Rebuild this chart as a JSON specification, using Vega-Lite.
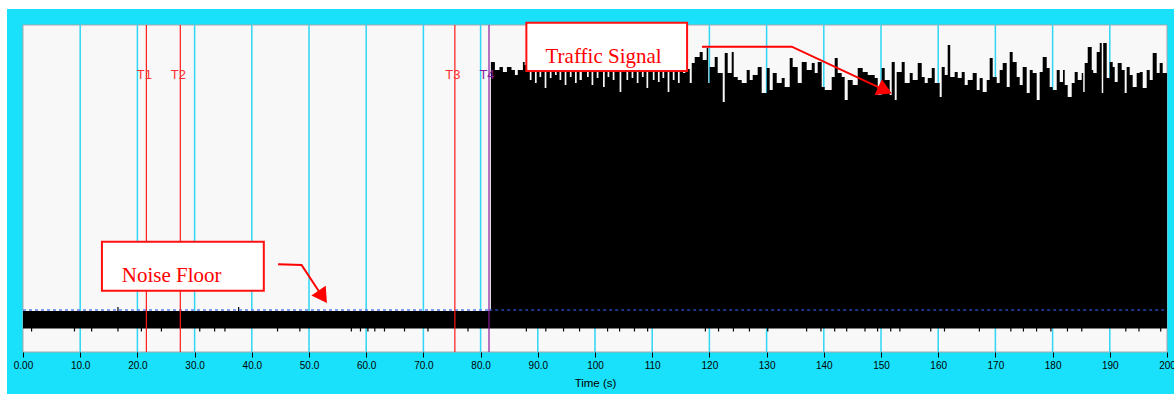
{
  "$schema": "https://vega.github.io/schema/vega-lite/v6.json",
  "width": 1144,
  "height": 327,
  "autosize": {"type": "none"},
  "padding": {"left": 23, "top": 25, "right": 7, "bottom": 42},
  "background": "#ffffff",
  "config": {
    "view": {"stroke": null},
    "axis": {
      "labelFont": "Liberation Sans", "labelFontSize": 10, "labelColor": "#000000",
      "tickColor": "#000000", "tickSize": 5, "tickWidth": 1, "domain": false, "grid": false,
      "labelPadding": 3, "labelFlush": false, "labelOverlap": false,
      "titleFont": "Liberation Sans", "titleFontSize": 11.5, "titleFontWeight": "normal",
      "titleColor": "#000000", "titlePadding": 7
    }
  },
  "resolve": {"scale": {"color": "independent"}},
  "datasets": {
    "one": [{}],
    "sig": [
      {"t": 0, "lo": 23.5, "hi": 41},
      {"t": 81.8, "lo": 23.5, "hi": 290}, {"t": 82.5, "lo": 23.5, "hi": 282}, {"t": 83.3, "lo": 23.5, "hi": 285},
      {"t": 83.9, "lo": 23.5, "hi": 280}, {"t": 84.6, "lo": 23.5, "hi": 285}, {"t": 85.4, "lo": 23.5, "hi": 282},
      {"t": 86.0, "lo": 23.5, "hi": 277}, {"t": 86.5, "lo": 23.5, "hi": 282}, {"t": 87.4, "lo": 23.5, "hi": 290},
      {"t": 87.7, "lo": 23.5, "hi": 287},
      {"t": 88.6, "lo": 23.5, "hi": 272}, {"t": 88.9, "lo": 23.5, "hi": 286},
      {"t": 89.5, "lo": 23.5, "hi": 269}, {"t": 89.8, "lo": 23.5, "hi": 284},
      {"t": 90.3, "lo": 23.5, "hi": 275}, {"t": 90.6, "lo": 23.5, "hi": 288},
      {"t": 91.2, "lo": 23.5, "hi": 264}, {"t": 91.5, "lo": 23.5, "hi": 283},
      {"t": 92.1, "lo": 23.5, "hi": 274}, {"t": 92.4, "lo": 23.5, "hi": 287},
      {"t": 93.0, "lo": 23.5, "hi": 277}, {"t": 93.3, "lo": 23.5, "hi": 290},
      {"t": 93.8, "lo": 23.5, "hi": 272}, {"t": 94.1, "lo": 23.5, "hi": 285},
      {"t": 94.7, "lo": 23.5, "hi": 267}, {"t": 95.0, "lo": 23.5, "hi": 283},
      {"t": 95.6, "lo": 23.5, "hi": 275}, {"t": 95.9, "lo": 23.5, "hi": 288},
      {"t": 96.5, "lo": 23.5, "hi": 269}, {"t": 96.8, "lo": 23.5, "hi": 284},
      {"t": 97.3, "lo": 23.5, "hi": 272}, {"t": 97.7, "lo": 23.5, "hi": 286}, {"t": 98.1, "lo": 23.5, "hi": 289},
      {"t": 98.6, "lo": 23.5, "hi": 275}, {"t": 98.9, "lo": 23.5, "hi": 283},
      {"t": 99.4, "lo": 23.5, "hi": 267}, {"t": 99.7, "lo": 23.5, "hi": 287},
      {"t": 100.3, "lo": 23.5, "hi": 274}, {"t": 100.6, "lo": 23.5, "hi": 290},
      {"t": 101.4, "lo": 23.5, "hi": 265}, {"t": 101.7, "lo": 23.5, "hi": 284},
      {"t": 102.2, "lo": 23.5, "hi": 275}, {"t": 102.5, "lo": 23.5, "hi": 288},
      {"t": 103.1, "lo": 23.5, "hi": 272}, {"t": 103.4, "lo": 23.5, "hi": 283}, {"t": 103.8, "lo": 23.5, "hi": 289},
      {"t": 104.3, "lo": 23.5, "hi": 260}, {"t": 104.6, "lo": 23.5, "hi": 286}, {"t": 105.0, "lo": 23.5, "hi": 290},
      {"t": 105.5, "lo": 23.5, "hi": 272}, {"t": 105.8, "lo": 23.5, "hi": 284},
      {"t": 106.4, "lo": 23.5, "hi": 274}, {"t": 106.7, "lo": 23.5, "hi": 288},
      {"t": 107.3, "lo": 23.5, "hi": 269}, {"t": 107.6, "lo": 23.5, "hi": 285},
      {"t": 108.2, "lo": 23.5, "hi": 275}, {"t": 108.5, "lo": 23.5, "hi": 289},
      {"t": 109.0, "lo": 23.5, "hi": 264}, {"t": 109.3, "lo": 23.5, "hi": 283}, {"t": 109.7, "lo": 23.5, "hi": 287},
      {"t": 110.1, "lo": 23.5, "hi": 272}, {"t": 110.4, "lo": 23.5, "hi": 290},
      {"t": 111.0, "lo": 23.5, "hi": 270}, {"t": 111.3, "lo": 23.5, "hi": 285},
      {"t": 111.8, "lo": 23.5, "hi": 274}, {"t": 112.1, "lo": 23.5, "hi": 288},
      {"t": 112.7, "lo": 23.5, "hi": 260}, {"t": 113.0, "lo": 23.5, "hi": 284},
      {"t": 113.6, "lo": 23.5, "hi": 272}, {"t": 113.9, "lo": 23.5, "hi": 287},
      {"t": 114.5, "lo": 23.5, "hi": 269}, {"t": 114.8, "lo": 23.5, "hi": 285},
      {"t": 115.4, "lo": 23.5, "hi": 279}, {"t": 115.8, "lo": 23.5, "hi": 283},
      {"t": 116.56, "lo": 23.5, "hi": 269}, {"t": 116.91, "lo": 23.5, "hi": 289}, {"t": 117.43, "lo": 23.5, "hi": 295},
      {"t": 118.30, "lo": 23.5, "hi": 300}, {"t": 118.83, "lo": 23.5, "hi": 292}, {"t": 119.53, "lo": 23.5, "hi": 304},
      {"t": 119.79, "lo": 23.5, "hi": 269}, {"t": 120.05, "lo": 23.5, "hi": 285}, {"t": 120.93, "lo": 23.5, "hi": 295},
      {"t": 121.45, "lo": 23.5, "hi": 279}, {"t": 122.33, "lo": 23.5, "hi": 250}, {"t": 122.68, "lo": 23.5, "hi": 299},
      {"t": 123.20, "lo": 23.5, "hi": 279}, {"t": 123.90, "lo": 23.5, "hi": 300}, {"t": 124.25, "lo": 23.5, "hi": 275},
      {"t": 124.95, "lo": 23.5, "hi": 272}, {"t": 125.65, "lo": 23.5, "hi": 269}, {"t": 126.52, "lo": 23.5, "hi": 282},
      {"t": 127.05, "lo": 23.5, "hi": 272}, {"t": 127.57, "lo": 23.5, "hi": 277}, {"t": 128.44, "lo": 23.5, "hi": 285},
      {"t": 129.14, "lo": 23.5, "hi": 259}, {"t": 130.02, "lo": 23.5, "hi": 284}, {"t": 130.54, "lo": 23.5, "hi": 262},
      {"t": 131.07, "lo": 23.5, "hi": 279}, {"t": 131.77, "lo": 23.5, "hi": 269}, {"t": 132.64, "lo": 23.5, "hi": 274},
      {"t": 133.16, "lo": 23.5, "hi": 265}, {"t": 134.04, "lo": 23.5, "hi": 294}, {"t": 134.56, "lo": 23.5, "hi": 285},
      {"t": 135.44, "lo": 23.5, "hi": 269}, {"t": 136.14, "lo": 23.5, "hi": 290}, {"t": 137.01, "lo": 23.5, "hi": 282},
      {"t": 137.89, "lo": 23.5, "hi": 289}, {"t": 138.41, "lo": 23.5, "hi": 279}, {"t": 138.93, "lo": 23.5, "hi": 290},
      {"t": 139.63, "lo": 23.5, "hi": 265}, {"t": 140.16, "lo": 23.5, "hi": 262}, {"t": 141.38, "lo": 23.5, "hi": 275},
      {"t": 141.91, "lo": 23.5, "hi": 294}, {"t": 142.43, "lo": 23.5, "hi": 279}, {"t": 143.13, "lo": 23.5, "hi": 275},
      {"t": 143.65, "lo": 23.5, "hi": 252}, {"t": 144.18, "lo": 23.5, "hi": 272}, {"t": 145.05, "lo": 23.5, "hi": 267},
      {"t": 145.93, "lo": 23.5, "hi": 284}, {"t": 146.80, "lo": 23.5, "hi": 280}, {"t": 147.68, "lo": 23.5, "hi": 277},
      {"t": 148.90, "lo": 23.5, "hi": 274}, {"t": 149.43, "lo": 23.5, "hi": 257}, {"t": 150.12, "lo": 23.5, "hi": 284},
      {"t": 150.65, "lo": 23.5, "hi": 272}, {"t": 151.52, "lo": 23.5, "hi": 257}, {"t": 151.87, "lo": 23.5, "hi": 290},
      {"t": 152.40, "lo": 23.5, "hi": 252}, {"t": 152.74, "lo": 23.5, "hi": 280}, {"t": 153.62, "lo": 23.5, "hi": 290},
      {"t": 154.14, "lo": 23.5, "hi": 269}, {"t": 155.02, "lo": 23.5, "hi": 279}, {"t": 155.54, "lo": 23.5, "hi": 272},
      {"t": 156.42, "lo": 23.5, "hi": 289}, {"t": 157.12, "lo": 23.5, "hi": 275}, {"t": 157.64, "lo": 23.5, "hi": 269},
      {"t": 158.17, "lo": 23.5, "hi": 274}, {"t": 158.87, "lo": 23.5, "hi": 284}, {"t": 159.39, "lo": 23.5, "hi": 269},
      {"t": 160.26, "lo": 23.5, "hi": 255}, {"t": 160.61, "lo": 23.5, "hi": 285}, {"t": 161.14, "lo": 23.5, "hi": 277},
      {"t": 161.66, "lo": 23.5, "hi": 307}, {"t": 162.10, "lo": 23.5, "hi": 275}, {"t": 162.88, "lo": 23.5, "hi": 280},
      {"t": 163.41, "lo": 23.5, "hi": 274}, {"t": 164.11, "lo": 23.5, "hi": 280}, {"t": 164.63, "lo": 23.5, "hi": 267},
      {"t": 165.16, "lo": 23.5, "hi": 272}, {"t": 166.03, "lo": 23.5, "hi": 279}, {"t": 166.73, "lo": 23.5, "hi": 262},
      {"t": 167.25, "lo": 23.5, "hi": 274}, {"t": 167.78, "lo": 23.5, "hi": 260}, {"t": 168.48, "lo": 23.5, "hi": 272},
      {"t": 169.00, "lo": 23.5, "hi": 294}, {"t": 169.53, "lo": 23.5, "hi": 275}, {"t": 170.23, "lo": 23.5, "hi": 269},
      {"t": 170.75, "lo": 23.5, "hi": 282}, {"t": 171.28, "lo": 23.5, "hi": 289}, {"t": 171.98, "lo": 23.5, "hi": 265},
      {"t": 172.50, "lo": 23.5, "hi": 300}, {"t": 173.02, "lo": 23.5, "hi": 290}, {"t": 173.72, "lo": 23.5, "hi": 275},
      {"t": 174.25, "lo": 23.5, "hi": 267}, {"t": 174.77, "lo": 23.5, "hi": 285}, {"t": 175.47, "lo": 23.5, "hi": 259},
      {"t": 176.00, "lo": 23.5, "hi": 282}, {"t": 176.52, "lo": 23.5, "hi": 279}, {"t": 177.22, "lo": 23.5, "hi": 252},
      {"t": 177.74, "lo": 23.5, "hi": 280}, {"t": 178.27, "lo": 23.5, "hi": 295}, {"t": 178.97, "lo": 23.5, "hi": 284},
      {"t": 179.49, "lo": 23.5, "hi": 265}, {"t": 180.02, "lo": 23.5, "hi": 262}, {"t": 180.72, "lo": 23.5, "hi": 282},
      {"t": 181.24, "lo": 23.5, "hi": 270}, {"t": 181.82, "lo": 23.5, "hi": 282}, {"t": 182.12, "lo": 23.5, "hi": 267},
      {"t": 182.64, "lo": 23.5, "hi": 255}, {"t": 183.34, "lo": 23.5, "hi": 269}, {"t": 183.86, "lo": 23.5, "hi": 280},
      {"t": 184.39, "lo": 23.5, "hi": 272}, {"t": 185.09, "lo": 23.5, "hi": 279}, {"t": 185.35, "lo": 23.5, "hi": 260},
      {"t": 185.61, "lo": 23.5, "hi": 289}, {"t": 186.14, "lo": 23.5, "hi": 305}, {"t": 186.84, "lo": 23.5, "hi": 282},
      {"t": 187.10, "lo": 23.5, "hi": 279}, {"t": 187.71, "lo": 23.5, "hi": 300}, {"t": 188.24, "lo": 23.5, "hi": 309},
      {"t": 188.59, "lo": 23.5, "hi": 259}, {"t": 188.85, "lo": 23.5, "hi": 309}, {"t": 189.46, "lo": 23.5, "hi": 274},
      {"t": 189.98, "lo": 23.5, "hi": 290}, {"t": 190.51, "lo": 23.5, "hi": 285}, {"t": 190.86, "lo": 23.5, "hi": 270},
      {"t": 191.38, "lo": 23.5, "hi": 289}, {"t": 192.08, "lo": 23.5, "hi": 282}, {"t": 192.60, "lo": 23.5, "hi": 259},
      {"t": 192.95, "lo": 23.5, "hi": 285}, {"t": 193.48, "lo": 23.5, "hi": 277}, {"t": 194.00, "lo": 23.5, "hi": 265},
      {"t": 194.70, "lo": 23.5, "hi": 279}, {"t": 195.23, "lo": 23.5, "hi": 280}, {"t": 195.75, "lo": 23.5, "hi": 264},
      {"t": 196.45, "lo": 23.5, "hi": 282}, {"t": 196.98, "lo": 23.5, "hi": 272}, {"t": 197.50, "lo": 23.5, "hi": 299},
      {"t": 198.20, "lo": 23.5, "hi": 279}, {"t": 198.72, "lo": 23.5, "hi": 289}, {"t": 199.25, "lo": 23.5, "hi": 279},
      {"t": 200, "lo": 23.5, "hi": 275}
    ],
    "ticks": [
      {"t": 16.6, "lo": 41, "hi": 45}, {"t": 37.7, "lo": 41, "hi": 45},
      {"t": 1.5, "lo": 20.5, "hi": 24}, {"t": 9.0, "lo": 20.5, "hi": 24}, {"t": 12.0, "lo": 20.5, "hi": 24},
      {"t": 16.6, "lo": 20.5, "hi": 24}, {"t": 20.7, "lo": 20.5, "hi": 24}, {"t": 24.2, "lo": 20.5, "hi": 24},
      {"t": 30.9, "lo": 20.5, "hi": 24}, {"t": 33.5, "lo": 20.5, "hi": 24}, {"t": 35.3, "lo": 20.5, "hi": 24},
      {"t": 44.5, "lo": 20.5, "hi": 24}, {"t": 48.4, "lo": 20.5, "hi": 24}, {"t": 57.4, "lo": 20.5, "hi": 24},
      {"t": 59.0, "lo": 20.5, "hi": 24}, {"t": 60.3, "lo": 20.5, "hi": 24}, {"t": 61.5, "lo": 20.5, "hi": 24},
      {"t": 63.2, "lo": 20.5, "hi": 24}, {"t": 66.7, "lo": 20.5, "hi": 24}, {"t": 70.8, "lo": 20.5, "hi": 24},
      {"t": 77.8, "lo": 20.5, "hi": 24}, {"t": 88.0, "lo": 20.5, "hi": 24}, {"t": 91.4, "lo": 20.5, "hi": 24},
      {"t": 94.5, "lo": 20.5, "hi": 24}, {"t": 97.3, "lo": 20.5, "hi": 24}, {"t": 102.2, "lo": 20.5, "hi": 24},
      {"t": 104.3, "lo": 20.5, "hi": 24}, {"t": 106.9, "lo": 20.5, "hi": 24}, {"t": 109.2, "lo": 20.5, "hi": 24},
      {"t": 119.3, "lo": 20.5, "hi": 24}, {"t": 121.6, "lo": 20.5, "hi": 24}, {"t": 124.2, "lo": 20.5, "hi": 24},
      {"t": 127.0, "lo": 20.5, "hi": 24}, {"t": 130.2, "lo": 20.5, "hi": 24}, {"t": 137.0, "lo": 20.5, "hi": 24},
      {"t": 139.5, "lo": 20.5, "hi": 24}, {"t": 141.9, "lo": 20.5, "hi": 24}, {"t": 144.0, "lo": 20.5, "hi": 24},
      {"t": 147.2, "lo": 20.5, "hi": 24}, {"t": 149.4, "lo": 20.5, "hi": 24}, {"t": 151.7, "lo": 20.5, "hi": 24},
      {"t": 153.3, "lo": 20.5, "hi": 24}, {"t": 158.7, "lo": 20.5, "hi": 24}, {"t": 161.1, "lo": 20.5, "hi": 24},
      {"t": 167.2, "lo": 20.5, "hi": 24}, {"t": 172.7, "lo": 20.5, "hi": 24}, {"t": 174.9, "lo": 20.5, "hi": 24},
      {"t": 177.2, "lo": 20.5, "hi": 24}, {"t": 179.7, "lo": 20.5, "hi": 24}, {"t": 182.6, "lo": 20.5, "hi": 24},
      {"t": 185.1, "lo": 20.5, "hi": 24}, {"t": 192.8, "lo": 20.5, "hi": 24}, {"t": 195.1, "lo": 20.5, "hi": 24},
      {"t": 198.9, "lo": 20.5, "hi": 24}
    ],
    "grid": [
      {"t": 10}, {"t": 20}, {"t": 30}, {"t": 40}, {"t": 50}, {"t": 60}, {"t": 70}, {"t": 80}, {"t": 90},
      {"t": 100}, {"t": 110}, {"t": 120}, {"t": 130}, {"t": 140}, {"t": 150}, {"t": 160}, {"t": 170},
      {"t": 180}, {"t": 190}
    ],
    "floor": [
      {"seg": "noise", "t0": 0, "t1": 81.5, "v": 42},
      {"seg": "signal", "t0": 81.5, "t1": 200, "v": 42}
    ],
    "markers": [
      {"name": "T1", "t": 21.57},
      {"name": "T2", "t": 27.5},
      {"name": "T3", "t": 75.5},
      {"name": "T4", "t": 81.47}
    ],
    "arrows": [
      {"id": "traffic", "i": 0, "t": 118.7, "v": 305.3},
      {"id": "traffic", "i": 1, "t": 134.4, "v": 305.3},
      {"id": "traffic", "i": 2, "t": 149.9, "v": 263.8},
      {"id": "noise", "i": 0, "t": 44.6, "v": 87.7},
      {"id": "noise", "i": 1, "t": 48.7, "v": 87.0},
      {"id": "noise", "i": 2, "t": 51.9, "v": 59.3}
    ],
    "heads": [
      {"id": "traffic", "t": 150.7, "v": 261.7},
      {"id": "noise", "t": 52.4, "v": 55.1}
    ],
    "boxes": [
      {"label": "Traffic Signal", "t0": 88.0, "t1": 116.1, "v0": 281, "v1": 329.3, "tx": 101.5, "ty": 288.7},
      {"label": "Noise Floor", "t0": 13.8, "t1": 42.1, "v0": 61.3, "v1": 110.3, "tx": 26.0, "ty": 70.3}
    ]
  },
  "layer": [
    {
      "data": {"name": "one"},
      "mark": {"type": "rect", "color": "#19e0fb"},
      "encoding": {
        "x": {"datum": -2.8, "type": "quantitative", "title": "Time (s)", "scale": {"domain": [0, 200], "nice": false, "zero": false}, "axis": {"zindex": 2}},
        "x2": {"datum": 201.3},
        "y": {"datum": 343, "type": "quantitative", "scale": {"domain": [0, 327], "nice": false, "zero": false}, "axis": null},
        "y2": {"datum": -42}
      }
    },
    {
      "data": {"name": "one"},
      "mark": {"type": "rect", "fill": "#f8f8f8", "stroke": "#a8a8a8", "strokeWidth": 1},
      "encoding": {
        "x": {"datum": 0, "type": "quantitative", "title": "Time (s)", "axis": {"zindex": 2}},
        "x2": {"datum": 200},
        "y": {"datum": 0, "type": "quantitative", "axis": null},
        "y2": {"datum": 327}
      }
    },
    {
      "data": {"name": "grid"},
      "mark": {"type": "rule", "color": "#2ed6f5", "strokeWidth": 1.5},
      "encoding": {
        "x": {"field": "t", "type": "quantitative", "title": "Time (s)", "axis": {"zindex": 2}},
        "y": {"datum": 0, "type": "quantitative", "axis": null},
        "y2": {"datum": 327}
      }
    },
    {
      "data": {"name": "sig"},
      "mark": {"type": "area", "interpolate": "step-after", "color": "#000000"},
      "encoding": {
        "x": {
          "field": "t", "type": "quantitative", "title": "Time (s)",
          "axis": {
            "zindex": 2,
            "values": [0, 10, 20, 30, 40, 50, 60, 70, 80, 90, 100, 110, 120, 130, 140, 150, 160, 170, 180, 190, 200],
            "labelExpr": "datum.value == 0 ? '0.00' : (datum.value < 100 ? format(datum.value, '.1f') : format(datum.value, 'd'))"
          }
        },
        "y": {"field": "hi", "type": "quantitative", "axis": null},
        "y2": {"field": "lo"}
      }
    },
    {
      "data": {"name": "ticks"},
      "mark": {"type": "rule", "color": "#000000", "strokeWidth": 1.2},
      "encoding": {
        "x": {"field": "t", "type": "quantitative", "title": "Time (s)", "axis": {"zindex": 2}},
        "y": {"field": "lo", "type": "quantitative", "axis": null},
        "y2": {"field": "hi"}
      }
    },
    {
      "data": {"name": "floor"},
      "mark": {"type": "rule", "strokeWidth": 1.6, "strokeDash": [3, 3]},
      "encoding": {
        "x": {"field": "t0", "type": "quantitative", "title": "Time (s)", "axis": {"zindex": 2}},
        "x2": {"field": "t1"},
        "y": {"field": "v", "type": "quantitative", "axis": null},
        "color": {"field": "seg", "type": "nominal", "scale": {"domain": ["noise", "signal"], "range": ["#5a80ea", "#2344b0"]}, "legend": null}
      }
    },
    {
      "data": {"name": "markers"},
      "mark": {"type": "rule", "strokeWidth": 1.2},
      "encoding": {
        "x": {"field": "t", "type": "quantitative", "title": "Time (s)", "axis": {"zindex": 2}},
        "y": {"datum": 0, "type": "quantitative", "axis": null},
        "y2": {"datum": 327},
        "color": {"field": "name", "type": "nominal", "scale": {"domain": ["T1", "T2", "T3", "T4"], "range": ["#ff1a1a", "#ff1a1a", "#ff1a1a", "#8a1c9c"]}, "legend": null}
      }
    },
    {
      "data": {"name": "markers"},
      "mark": {"type": "text", "font": "Liberation Sans", "fontSize": 13, "align": "center", "baseline": "middle", "dx": -2},
      "encoding": {
        "x": {"field": "t", "type": "quantitative", "title": "Time (s)", "axis": {"zindex": 2}},
        "y": {"datum": 277, "type": "quantitative", "axis": null},
        "text": {"field": "name"},
        "color": {"field": "name", "type": "nominal", "scale": {"domain": ["T1", "T2", "T3", "T4"], "range": ["#ff3030", "#ff3030", "#ff3030", "#8a1c9c"]}, "legend": null}
      }
    },
    {
      "data": {"name": "arrows"},
      "mark": {"type": "line", "color": "#ff0000", "strokeWidth": 2},
      "encoding": {
        "x": {"field": "t", "type": "quantitative", "title": "Time (s)", "axis": {"zindex": 2}},
        "y": {"field": "v", "type": "quantitative", "axis": null},
        "detail": {"field": "id"},
        "order": {"field": "i"}
      }
    },
    {
      "data": {"name": "heads"},
      "transform": [{"filter": "datum.id == 'traffic'"}],
      "mark": {"type": "point", "shape": "triangle-right", "filled": true, "color": "#ff0000", "size": 300, "angle": 25, "opacity": 1},
      "encoding": {
        "x": {"field": "t", "type": "quantitative", "title": "Time (s)", "axis": {"zindex": 2}},
        "y": {"field": "v", "type": "quantitative", "axis": null}
      }
    },
    {
      "data": {"name": "heads"},
      "transform": [{"filter": "datum.id == 'noise'"}],
      "mark": {"type": "point", "shape": "triangle-right", "filled": true, "color": "#ff0000", "size": 300, "angle": 56, "opacity": 1},
      "encoding": {
        "x": {"field": "t", "type": "quantitative", "title": "Time (s)", "axis": {"zindex": 2}},
        "y": {"field": "v", "type": "quantitative", "axis": null}
      }
    },
    {
      "data": {"name": "boxes"},
      "mark": {"type": "rect", "fill": "#ffffff", "stroke": "#ff1010", "strokeWidth": 2},
      "encoding": {
        "x": {"field": "t0", "type": "quantitative", "title": "Time (s)", "axis": {"zindex": 2}},
        "x2": {"field": "t1"},
        "y": {"field": "v0", "type": "quantitative", "axis": null},
        "y2": {"field": "v1"}
      }
    },
    {
      "data": {"name": "boxes"},
      "mark": {"type": "text", "font": "Liberation Serif", "fontSize": 21, "color": "#ff0000", "align": "center", "baseline": "alphabetic"},
      "encoding": {
        "x": {"field": "tx", "type": "quantitative", "title": "Time (s)", "axis": {"zindex": 2}},
        "y": {"field": "ty", "type": "quantitative", "axis": null},
        "text": {"field": "label"}
      }
    }
  ]
}
